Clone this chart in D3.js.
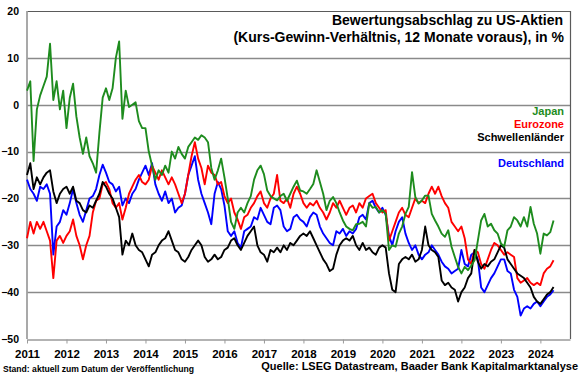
<!DOCTYPE html>
<html>
<head>
<meta charset="utf-8">
<script src="https://cdn.jsdelivr.net/npm/d3@7"></script>
<style>
  body { margin: 0; background: #fff; }
  svg { display: block; font-family: "Liberation Sans", Arial, sans-serif; }
</style>
</head>
<body>
<script>
// monthly values, Jan 2011 .. May 2024
var japan = [
  3, 5, -12, -1, 2, 4, 6, 13, 1, 5, -1, 3,
  -5, 1.5, 4.5, -2.5, -7, -10.5, -7, -11, -12.5, -14.5, -6, 1.5,
  3.5, 1, 3.5, 10, 13.5, -3, 3, -0.5, 0, 0.5, -3.5, -5,
  -5, -10, -13, -16, -14, -15, -13, -14.5, -10, -11.5, -9, -10.5,
  -11.5, -9, -8, -7, -7.5, -6.5, -7, -8, -13.5, -16, -14, -11.5,
  -15.5, -20, -25, -26.5, -23, -22, -23, -21, -19.5, -16, -14, -13,
  -14.8, -18.3, -19.5, -20, -20.4, -19.5, -19, -20.5, -19, -17.5, -16.2, -18.3,
  -18.5, -19, -18, -16.9, -14, -16.5, -19, -22.5, -20.5, -19.7, -21, -23,
  -24.7, -26, -26.5, -26.8, -25.5, -25.4, -25, -26, -21, -22, -21.8, -23,
  -22.5, -23.3, -31, -30, -30.3, -27.5, -26, -23.3, -21.8, -14.4, -19.7, -21.1,
  -20.4, -19.4, -19.4, -23.3, -24.7, -26, -27.5, -28.2, -26.8, -30.3, -32.5, -34.6,
  -36, -34.6, -35.3, -34.3, -33.2, -29, -24.7, -23.3, -26, -25.4, -26.8, -27.5,
  -29.6, -30.3, -26.8, -26, -24, -24.7, -26, -24, -26, -21.8, -25.4, -27.5,
  -31.8, -27.5, -27.9, -27.2, -24.7
];

var eurozone = [
  -28.5, -25, -27.5, -25, -26.5, -25, -27, -29, -37, -29, -28, -29.5,
  -28, -27, -24.5, -28, -30, -33, -30, -28, -23, -20.5, -20, -17,
  -16.5, -18, -21, -22, -21, -24.5, -22, -19, -17.5, -16, -15, -16.5,
  -17, -16, -13, -14.5, -16, -14, -15.5, -17, -15.5, -17, -19, -21,
  -19, -15, -11, -8, -11.5, -13.5, -17, -13, -14.5, -15, -17, -16.5,
  -19.5, -21, -20, -23, -24.5, -26.5, -24, -23.5, -22, -21, -19.5, -18.5,
  -21, -22, -20, -19, -15, -20.5, -21, -20, -22, -19, -17.5, -19,
  -21, -22, -21, -21.5, -20.5, -22, -23, -24.5, -23, -21, -22, -20.5,
  -22, -23.5, -22, -21.5, -23, -21, -22, -20, -19.5, -19, -21, -22,
  -23, -22.5, -29, -27, -25, -23, -22, -23.5, -24, -22, -20, -21,
  -20.5, -21, -19, -17.5, -19, -17.5, -19.5, -21, -22, -25, -26, -27,
  -26, -28.5, -33, -34, -31, -31.5, -34, -35, -33, -31, -29.5, -30,
  -31, -32, -31.5, -32, -32.5, -37, -38, -37.5, -37, -38, -38.5, -38,
  -38.5, -36, -35, -34.5, -33.2
];

var schwellen = [
  -15, -12.5, -18, -15.5, -17, -15.5, -14.5, -14, -18.5, -21, -19, -18,
  -17.5, -19, -17.5, -20.5, -21, -22.5, -23, -21.5, -22, -20.5, -19, -16.5,
  -17.5, -19, -20, -22, -24, -32, -29, -30, -27.5, -30, -31, -31.5,
  -33, -34.5, -32, -31.5, -30, -29, -28.5, -27, -29, -31, -31.5, -33,
  -33.5, -32.5, -31, -30, -29, -30, -32.5, -33.5, -33, -32, -33, -32.5,
  -31, -30.5, -29, -28.5, -30, -31, -29.5, -28, -27, -26, -30, -31.5,
  -32, -33.5, -31, -31.5, -30.5, -31.5, -30, -31, -29.5, -30, -29, -28,
  -27.5, -28, -27, -28.5, -30, -31.5, -33, -34, -35.5, -35, -32, -30,
  -29, -28.5, -29, -28, -30, -31, -29.5, -31, -30.5, -31.5, -32, -30.5,
  -30, -30.5, -36, -39.5, -40, -34, -33, -32.5, -33, -32, -33.5, -33,
  -31, -26, -30, -31, -31.5, -32.5, -37.5, -38.5, -38, -39, -39.5, -42,
  -40, -39, -37, -36, -31, -33.5, -35, -34, -34.5, -33.5, -33, -31.5,
  -30, -30.5, -33, -34, -35, -36, -36.5, -37, -38, -39, -41, -42,
  -42.5, -41.5, -40.5, -40, -38.9
];

var deutschland = [
  -16, -18, -19, -20.5, -17.5, -18, -17, -19, -32, -26, -25, -22.5,
  -23.5, -21, -18, -21, -23.5, -25, -22.5, -20, -19.5, -18, -15, -12.8,
  -14.5, -16.5, -17, -18.5, -17.5, -21.5, -20, -21, -19, -18, -16, -14.5,
  -13, -15, -12.5, -17, -19, -20.5, -18.5, -21, -20, -23, -22, -21.5,
  -19, -15, -13, -11, -16, -19, -21, -23, -25.5, -19, -16.5, -18,
  -21.5, -27, -28, -27, -29.5, -30.5, -27, -26.5, -26, -24, -24.5, -22,
  -23.5, -25, -25.5, -22, -21.5, -22.5, -26, -27, -26.5, -24, -23.5, -24.5,
  -25, -26, -24, -23, -23.5, -26, -27.5, -28.5, -29.5, -30, -27, -27.5,
  -26.5, -28, -27, -27.5, -26.5, -24, -23.5, -24.5, -21, -20.5, -22, -23,
  -22, -23.5, -28, -30, -27, -25, -24, -27.5, -29.5, -31, -30, -32,
  -33, -32, -31.5, -30, -31, -32, -33.5, -34.5, -35, -36, -35.5, -35,
  -31, -34, -34.5, -32, -31.5, -33, -39, -40, -38.5, -37, -36, -34.5,
  -33, -33, -35.5, -36, -39.5, -41, -45, -43.5, -43, -43.5, -42.5, -42,
  -43, -42, -41, -40.5, -39.6
];

var months = japan.map(function(d, i) { return 2011 + i / 12; });
var years = d3.range(2011, 2025);
var yTicks = [20, 10, 0, -10, -20, -30, -40, -50];
var gridValues = [10, 0, -10, -20, -30, -40];

var series = [
  { name: "Deutschland", values: deutschland, color: "#0000ff" },
  { name: "Eurozone", values: eurozone, color: "#ff0000" },
  { name: "Schwellenländer", values: schwellen, color: "#000000" },
  { name: "Japan", values: japan, color: "#1e8c1e" }
];

var width = 580, height = 375;
var plotLeft = 27, plotRight = 570, plotTop = 11, plotBottom = 339;

var x = d3.scaleLinear().domain([2011, 2024.75]).range([plotLeft, plotRight]);
var y = d3.scaleLinear().domain([-50, 20]).range([plotBottom, plotTop]);

var svg = d3.select("body").append("svg")
    .attr("width", width)
    .attr("height", height);

// grid
svg.append("g").selectAll("line")
    .data(gridValues)
    .enter().append("line")
    .attr("x1", plotLeft).attr("x2", plotRight)
    .attr("y1", function(d) { return Math.round(y(d)) + 0.5; })
    .attr("y2", function(d) { return Math.round(y(d)) + 0.5; })
    .attr("stroke", "#8a8a8a")
    .attr("stroke-width", 1.3);

// frame top / right
svg.append("path")
    .attr("d", "M" + plotLeft + "," + (plotTop + 0.5) + "H" + (plotRight + 0.5) + "V" + plotBottom)
    .attr("fill", "none")
    .attr("stroke", "#5a5a5a")
    .attr("stroke-width", 1.2);

// x axis
var xAxis = svg.append("g")
    .attr("transform", "translate(0," + (plotBottom + 0.5) + ")")
    .call(d3.axisBottom(x).tickValues(years).tickFormat(d3.format("d"))
        .tickSize(4).tickPadding(6).tickSizeOuter(0));
xAxis.select(".domain").attr("stroke", "#9a9a9a").attr("stroke-width", 1.5);
xAxis.selectAll(".tick line").attr("stroke", "#9a9a9a");
xAxis.selectAll("text")
    .attr("font-family", "Liberation Sans, Arial, sans-serif")
    .attr("font-size", 11.5).attr("font-weight", "bold").attr("fill", "#000");

// y axis
var yAxis = svg.append("g")
    .attr("transform", "translate(" + plotLeft + ",0)")
    .call(d3.axisLeft(y).tickValues(yTicks).tickSize(0).tickPadding(8));
yAxis.select(".domain").remove();
yAxis.selectAll("text")
    .attr("font-family", "Liberation Sans, Arial, sans-serif")
    .attr("font-size", 10.5).attr("font-weight", "bold").attr("fill", "#000");

svg.append("line")
    .attr("x1", plotLeft).attr("x2", plotLeft)
    .attr("y1", plotTop).attr("y2", plotBottom)
    .attr("stroke", "#a0a0a0")
    .attr("stroke-width", 1.8);

// lines
var line = d3.line()
    .x(function(d, i) { return x(months[i]); })
    .y(function(d) { return y(d); });

svg.append("g").selectAll("path")
    .data(series)
    .enter().append("path")
    .attr("d", function(s) { return line(s.values); })
    .attr("fill", "none")
    .attr("stroke", function(s) { return s.color; })
    .attr("stroke-width", 1.9)
    .attr("stroke-linejoin", "round");

// title
var title = svg.append("g")
    .attr("font-weight", "bold")
    .attr("font-size", 14)
    .attr("text-anchor", "end");
title.append("text").attr("x", 563).attr("y", 25).text("Bewertungsabschlag zu US-Aktien");
title.append("text").attr("x", 564).attr("y", 42).text("(Kurs-Gewinn-Verhältnis, 12 Monate voraus), in %");

// legend
var legend = [
  { name: "Japan", color: "#1e8c1e", y: 115 },
  { name: "Eurozone", color: "#ff0000", y: 128 },
  { name: "Schwellenländer", color: "#000000", y: 141 },
  { name: "Deutschland", color: "#0000ff", y: 166.5 }
];
svg.append("g").selectAll("text")
    .data(legend)
    .enter().append("text")
    .attr("x", 564)
    .attr("y", function(d) { return d.y; })
    .attr("text-anchor", "end")
    .attr("font-size", 11)
    .attr("font-weight", "bold")
    .attr("fill", function(d) { return d.color; })
    .text(function(d) { return d.name; });

// footer
svg.append("text")
    .attr("x", 3).attr("y", 372)
    .attr("font-size", 8.6).attr("font-weight", "bold")
    .text("Stand: aktuell zum Datum der Veröffentlichung");
svg.append("text")
    .attr("x", 578).attr("y", 370)
    .attr("text-anchor", "end")
    .attr("font-size", 11).attr("font-weight", "bold")
    .text("Quelle: LSEG Datastream, Baader Bank Kapitalmarktanalyse");
</script>
</body>
</html>
